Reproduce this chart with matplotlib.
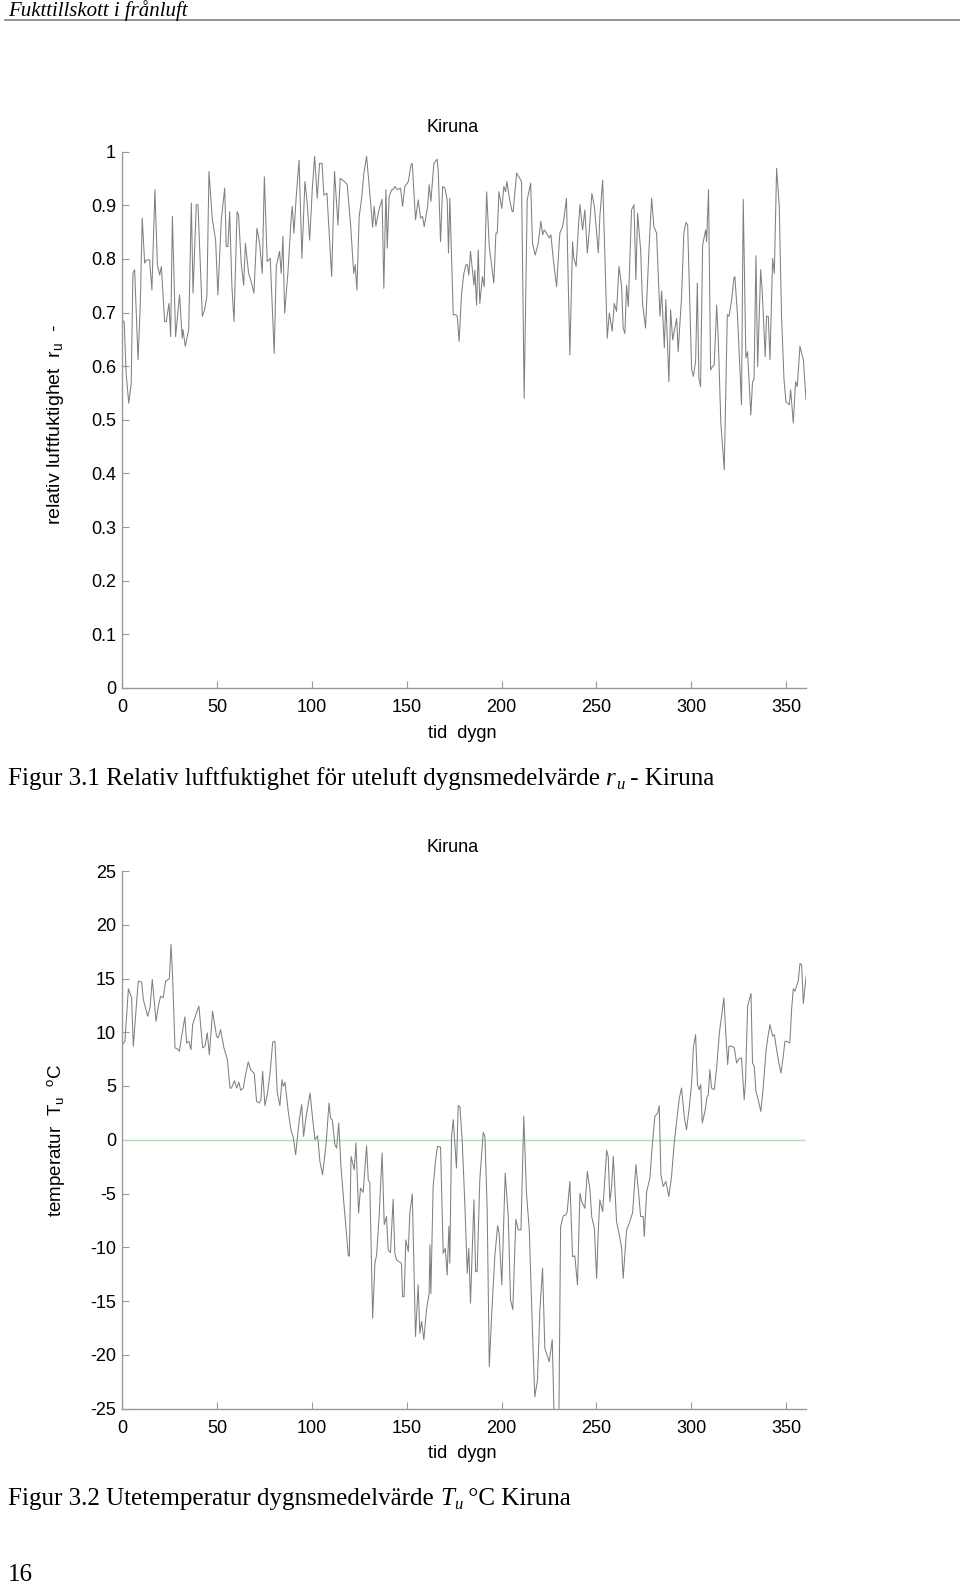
import matplotlib
matplotlib.use("Agg")
import matplotlib.pyplot as plt
from matplotlib.lines import Line2D

plt.rcParams['axes.unicode_minus'] = False
plt.rcParams['mathtext.fontset'] = 'custom'
plt.rcParams['mathtext.rm'] = 'Liberation Sans'
plt.rcParams['mathtext.it'] = 'Liberation Sans'

# relative humidity, Kiruna (day, value)
rh_day = [0, 1, 2, 3.4, 4.7, 5.6, 6.5, 8.3, 9.5, 10.5, 11.8, 12.7, 14.4, 15.6, 17.2, 18.5,
          19.7, 20.6, 22.3, 23.2, 24.6, 25.5, 26.4, 28.1, 30.2, 31.6, 32, 33.2, 35, 36.4,
          37.3, 39, 39.9, 42.2, 43.4, 44.6, 45.7, 47.4, 49.2, 50.4, 52.2, 54, 54.8, 55.7,
          56.6, 57.8, 58.9, 60.5, 61.3, 62.7, 64, 64.9, 66.6, 67.7, 69.4, 71, 72.4, 73.8,
          74.9, 76.4, 78, 80.1, 81.2, 82.9, 83.8, 84.7, 85.6, 87.3, 89.1, 89.6, 90.5, 91.7,
          93.2, 94.7, 96.3, 97.5, 98.8, 100.2, 101.4, 102.8, 104, 105.3, 106.3, 107.9,
          110.4, 111.9, 113.7, 114.9, 117.2, 118.6, 120.4, 122, 122.8, 123.7, 124.9,
          126.2, 127.4, 128.8, 130.2, 132, 132.8, 133.7, 135.5, 137, 137.9, 139, 139.7,
          140.7, 142, 142.8, 143.7, 145, 146.7, 147.8, 149, 150.8, 152.2, 152.9, 154.6,
          156, 157.3, 158.3, 159.2, 161, 161.8, 162.7, 164.3, 166, 166.6, 167.8, 168.9,
          170.1, 171.3, 172, 172.7, 174.5, 175.9, 176.6, 177.6, 178.9, 180.1, 181.2, 182,
          182.7, 183.6, 185.4, 185.9, 186.8, 187.7, 188.5, 189.9, 190.8, 192.1, 193.5,
          194.7, 195.9, 197, 197.7, 198.6, 200.1, 201.2, 202.1, 202.8, 204.4, 205.6, 206.1,
          207.9, 209.6, 210.5, 211.9, 213.5, 215.3, 216.3, 217.7, 219.3, 220.7, 221.6,
          222.5, 223.7, 225.1, 226, 227.2, 229, 230.7, 232.1, 232.8, 234.2, 235.1, 236,
          237.4, 238.1, 239.3, 240.4, 241.3, 242.7, 243.9, 245.2, 246.2, 247.6, 248.9,
          251, 251.8, 253.3, 255.7, 256.8, 258.3, 259.4, 260.6, 261.9, 263.3, 264.1, 265,
          265.9, 266.8, 268.5, 269.8, 270.8, 271.7, 273.3, 274.3, 275.9, 277.7, 279.1,
          280.3, 281.7, 283.5, 284.4, 285.8, 286.6, 288.2, 289.1, 290.2, 292.3, 293.1,
          294.9, 296.1, 297.2, 298.1, 300.2, 301.1, 302.3, 303.2, 304, 304.9, 306, 307.6,
          308.1, 309.1, 310.2, 311.1, 312.1, 313.4, 314.2, 315.6, 317.4, 319, 319.9, 321.3,
          322.5, 323, 324.4, 326.5, 327.4, 328.8, 329.7, 331.4, 332.3, 333.1, 334.1, 335,
          336.6, 337.4, 339, 339.7, 340.6, 341.5, 342.9, 343.8, 345, 346.4, 347.6, 348.9,
          349.9, 351.7, 352.4, 353.8, 355, 355.9, 357.3, 359.1, 360.5]
rh_val = [0.686, 0.683, 0.587, 0.531, 0.568, 0.773, 0.78, 0.612, 0.717, 0.876, 0.792, 0.798,
          0.798, 0.742, 0.929, 0.789, 0.77, 0.786, 0.683, 0.683, 0.717, 0.655, 0.879, 0.655,
          0.733, 0.652, 0.668, 0.637, 0.668, 0.904, 0.736, 0.901, 0.901, 0.693, 0.705, 0.73,
          0.963, 0.876, 0.835, 0.733, 0.873, 0.932, 0.823, 0.823, 0.888, 0.748, 0.683, 0.888,
          0.882, 0.792, 0.751, 0.829, 0.773, 0.761, 0.736, 0.857, 0.829, 0.773, 0.953, 0.795,
          0.801, 0.624, 0.786, 0.814, 0.773, 0.842, 0.699, 0.773, 0.879, 0.898, 0.848, 0.916,
          0.984, 0.801, 0.944, 0.904, 0.835, 0.932, 0.991, 0.913, 0.978, 0.978, 0.919, 0.922,
          0.767, 0.963, 0.863, 0.95, 0.944, 0.938, 0.863, 0.773, 0.789, 0.742, 0.879,
          0.913, 0.96, 0.991, 0.935, 0.859, 0.898, 0.861, 0.894, 0.911, 0.745, 0.929, 0.82,
          0.916, 0.929, 0.929, 0.935, 0.929, 0.932, 0.898, 0.935, 0.944, 0.975, 0.978, 0.873,
          0.91, 0.876, 0.879, 0.86, 0.898, 0.938, 0.907, 0.978, 0.986, 0.963, 0.832, 0.935,
          0.932, 0.91, 0.811, 0.913, 0.696, 0.696, 0.693, 0.646, 0.736, 0.773, 0.789, 0.789,
          0.77, 0.814, 0.751, 0.779, 0.714, 0.817, 0.717, 0.767, 0.748, 0.925, 0.823,
          0.789, 0.755, 0.848, 0.848, 0.925, 0.894, 0.935, 0.925, 0.944, 0.907, 0.888, 0.888,
          0.96, 0.95, 0.944, 0.54, 0.91, 0.941, 0.829, 0.807, 0.829, 0.87, 0.845,
          0.854, 0.848, 0.839, 0.845, 0.801, 0.748, 0.848, 0.86, 0.873, 0.913, 0.761, 0.621,
          0.832, 0.801, 0.786, 0.854, 0.901, 0.854, 0.891, 0.811, 0.851, 0.922, 0.898,
          0.811, 0.879, 0.947, 0.652, 0.699, 0.665, 0.717, 0.702, 0.786, 0.748, 0.671, 0.661,
          0.751, 0.711, 0.891, 0.901, 0.761, 0.885, 0.817, 0.717, 0.671, 0.817, 0.913,
          0.86, 0.848, 0.693, 0.74, 0.634, 0.724, 0.571, 0.705, 0.649, 0.689, 0.627,
          0.73, 0.848, 0.868, 0.863, 0.593, 0.581, 0.609, 0.755, 0.578, 0.562, 0.826, 0.854,
          0.832, 0.929, 0.593, 0.599, 0.602, 0.714, 0.655, 0.494, 0.407, 0.696, 0.693, 0.724,
          0.764, 0.767, 0.693, 0.528, 0.911, 0.615, 0.627, 0.509, 0.571, 0.575, 0.806, 0.599,
          0.78, 0.74, 0.618, 0.693, 0.693, 0.612, 0.801, 0.773, 0.969, 0.898, 0.693, 0.575,
          0.534, 0.528, 0.556, 0.494, 0.571, 0.562, 0.637, 0.612, 0.537]

# outdoor temperature, Kiruna (day, degC)
t_day = [0, 1.4, 3.2, 4.9, 5.8, 8.4, 10.2, 11.1, 13.4, 14.6, 15.8, 17.8, 19, 20.2, 21.6, 22.8,
         24.8, 25.7, 26.5, 27.8, 29, 30.1, 31.3, 33, 33.9, 35.1, 36.2, 37.1, 38.8, 40.4,
         42.4, 43.6, 44.8, 45.9, 47.6, 49.7, 50.6, 51.8, 53.6, 55.4, 56.8, 57.6, 59.1, 60.3,
         61.5, 62.4, 63.8, 65, 66.4, 67.7, 69.6, 70.8, 72.2, 73.1, 74, 75.2, 76.6, 77.9,
         79.3, 80.5, 81.7, 83.1, 84.2, 84.9, 85.8, 87.5, 88.9, 90.2, 91.4, 93.3, 94.6, 95.6,
         96.8, 99, 100.4, 101.6, 103, 104.2, 105.6, 107.4, 109, 109.8, 110.7, 112.1, 113,
         114.1, 115.3, 116.9, 119.2, 119.7, 120.6, 122.3, 123.2, 124.6,
         125.6, 127, 128.8, 129.7, 130.5, 132, 133.2, 134.1, 135.5, 137, 138.1, 139.3, 140.2,
         141.4, 142.8, 143.7, 144.6, 146.7, 147.2, 147.8, 148.6, 149.5, 150.8, 151.6, 152.9,
         154.6, 156, 156.9, 157.8, 159, 160.4, 161.8, 162.2, 162.7, 163.9, 165.2, 166.2,
         167.8, 169.2, 170.3, 171.3, 172.2, 172.7, 173.6, 174.5, 176.2, 177.1, 178, 179.2,
         180.6, 181.9, 182.7, 183.6, 185.4, 186.3, 187.1, 188.5, 190.3, 191.2, 192.4, 193.5,
         194.7, 196.4, 197.9, 198.7, 200.1, 201.9, 203.5, 204.7, 205.9, 207.5, 208.8, 210.2,
         211.7, 213.1, 214.6, 216.3, 217.5, 218.9, 220.2, 221.6, 222.8, 223.7, 225.1, 226.7,
         227.7, 230.2, 231.1, 232.5, 233.9, 234.6, 236, 237.4, 238.6, 240,
         241.3, 242.2, 243.9, 245.2, 246.6, 247.5, 248.9, 250.1, 251, 251.8, 253.3, 255.4,
         256.2, 257.1, 258, 258.9, 260.6, 262.4, 263.3, 264.1, 265.9, 267.3, 269.1, 270.8,
         272.1, 273.3, 274.7, 275.2, 276.5, 278.2, 279.4, 280.8, 282.3, 283.1, 284, 285.2,
         286.6, 288.2, 289.6, 291, 292.6, 293.7, 294.9, 296.3, 297.5, 299, 300.2, 301.1,
         302.3, 303.3, 304.2, 305, 305.8, 307.2, 308.4, 309, 309.8, 310.7, 312.1, 313.4,
         314.8, 316, 317.2, 318.1, 319.2, 319.9, 321.3, 322.7, 323.9, 325.1, 326.5, 327.9,
         328.6, 329.7, 331.5, 332.3, 333.2, 334.1, 335.3, 336.7, 338, 339.4, 340.2, 341.5,
         342.9, 343.8, 345, 346.2, 347.3, 348.5, 349.4, 350.3, 352, 352.9, 353.8, 354.7,
         355.5, 356.4, 357.3, 358.2, 359.1, 360.5]
t_val = [8.85, 9.16, 14.04, 13.2, 8.7, 14.75, 14.66, 13.04, 11.49, 12.27, 14.9, 11.02, 12.42,
         13.35, 13.2, 14.75, 14.97, 18.17, 15.22, 8.54, 8.45, 8.23, 9.63, 11.43, 9.0, 9.16,
         8.39, 10.71, 11.65, 12.42, 8.54, 8.7, 9.94, 7.92, 11.96, 9.63, 9.47, 10.25, 8.54,
         7.45, 4.81, 4.81, 5.5, 4.81, 5.34, 4.6, 4.81, 6.06, 7.24, 6.52, 6.15, 3.57, 3.42,
         3.73, 6.37, 3.17, 4.35, 6.21, 9.07, 9.16, 4.41, 3.17, 5.59, 4.97, 5.34, 2.64, 0.93,
         0.16, -1.4, 1.86, 3.26, 0.31, 2.02, 4.35, 1.86, 0.0, 0.37, -2.02, -3.26, -0.47,
         3.42, 2.02, 1.86, -0.47, -0.78, 1.55, -2.48, -6.06, -10.81, -10.81, -1.55, -2.8,
         -0.31, -6.83,
         -4.5, -4.9, -0.56, -3.73, -3.98, -16.6, -11.5, -10.7, -6.83, -1.24, -7.9, -7.14,
         -10.25, -10.5, -5.53, -10.56, -11.18, -11.43, -11.5, -14.6, -14.6, -9.32, -10.4,
         -6.83, -5.03, -18.3, -13.5, -18.0, -16.9, -18.6, -15.8, -14.3, -9.78, -14.3, -4.35,
         -1.86, -0.62, -0.68, -10.56, -10.1, -12.58, -8.07, -11.49, 0.31, 1.86, -2.64, 3.17,
         3.1, 0.0, -5.9, -12.42, -10.1, -15.2, -5.59, -12.27, -12.27, -3.73, 0.68, 0.31,
         -6.52, -21.1, -16.5, -10.87, -8.0, -8.7, -13.5, -3.1, -7.14, -14.9, -15.8, -7.4,
         -8.39, -8.39, 2.17, -4.97, -8.39, -18.0, -23.9, -22.4, -15.8, -11.96, -19.4, -19.9,
         -20.65, -18.6, -26.0, -26.0, -8.07, -7.08, -6.99, -6.68, -3.88, -10.87, -10.8,
         -13.5,
         -4.97, -5.75, -6.37, -2.95, -4.66, -7.14, -8.23, -12.9, -8.39, -5.59, -6.68, -0.99,
         -1.55, -5.75, -4.35, -1.55, -7.6, -9.16, -10.1, -12.9, -8.39, -7.76, -6.77, -2.33,
         -4.66, -7.14, -7.14, -9.0, -4.81, -3.57, -0.62, 2.17, 2.48, 3.17, -3.26, -4.35,
         -3.88, -5.28, -3.42, -0.31, 2.17, 3.88, 4.81, 2.17, 0.93, 3.1, 5.28, 8.54, 9.78,
         5.12, 4.66, 5.12, 1.55, 2.64, 4.04, 4.19, 6.52, 4.81, 4.66, 6.68, 9.94, 11.49, 13.2,
         10.25, 6.99, 8.7, 8.7, 8.54, 7.14, 7.52, 7.61, 3.73, 5.43, 12.42, 13.6, 7.14, 6.83,
         4.5, 3.73, 2.64, 4.97, 8.23, 9.32, 10.71, 9.63, 9.78, 8.39, 7.14, 6.21, 7.76, 9.16,
         9.16, 9.0, 12.11, 14.04, 13.82, 14.29, 14.75, 16.4, 16.3, 12.67, 15.16]

x_ticks = [0, 50, 100, 150, 200, 250, 300, 350]
rh_ticks = [0, 0.1, 0.2, 0.3, 0.4, 0.5, 0.6, 0.7, 0.8, 0.9, 1]
rh_ticklabels = ['0', '0.1', '0.2', '0.3', '0.4', '0.5', '0.6', '0.7', '0.8', '0.9', '1']
t_ticks = [-25, -20, -15, -10, -5, 0, 5, 10, 15, 20, 25]

W, H = 960, 1585
fig = plt.figure(figsize=(W / 100, H / 100), dpi=100)


def px(x, y):
    return x / W, 1 - y / H


sans = 'Liberation Sans'
serif = 'Liberation Serif'
axcol = '#9a9a9a'
linecol = '#808080'


def style_axes(ax):
    for s in ['top', 'right']:
        ax.spines[s].set_visible(False)
    for s in ['left', 'bottom']:
        ax.spines[s].set_color(axcol)
        ax.spines[s].set_linewidth(1.0)
    ax.tick_params(direction='in', length=5, width=0.8, color=axcol, labelsize=13)
    ax.tick_params(axis='y', pad=4.5)
    ax.tick_params(axis='x', pad=8)
    ax.set_xlim(0, 360.5)
    ax.set_xticks(x_ticks)
    ax.set_xticklabels([str(v) for v in x_ticks])
    for lab in ax.get_xticklabels() + ax.get_yticklabels():
        lab.set_fontfamily(sans)


def caption_line(y, pieces):
    # text pieces laid out one after another on a common baseline
    x = 8
    renderer = fig.canvas.get_renderer()
    for txt, size, dy, style in pieces:
        t = fig.text(*px(x, y + dy), txt, fontsize=size, family=serif, ha='left',
                     va='baseline', style=style)
        x += t.get_window_extent(renderer=renderer).width


# header
fig.text(*px(8, 11), 'Fukttillskott i frånluft', fontsize=15, family=serif,
         style='italic', va='center', ha='left')
fig.add_artist(Line2D([5 / W, 1.0], [1 - 19.5 / H, 1 - 19.5 / H], color='#808080',
                      linewidth=1.2, transform=fig.transFigure))

# Figure 3.1
l, r = 122.3, 806
ax1 = fig.add_axes([l / W, 1 - 688 / H, (r - l) / W, (688 - 151.6) / H])
ax1.plot(rh_day, rh_val, color=linecol, linewidth=0.75)
ax1.set_ylim(0, 1)
ax1.set_yticks(rh_ticks)
ax1.set_yticklabels(rh_ticklabels)
style_axes(ax1)
fig.text(*px(453, 128), 'Kiruna', fontsize=13, family=sans, ha='center', va='center')
fig.text(*px(462, 734), 'tid  dygn', fontsize=13, family=sans, ha='center', va='center')
fig.text(*px(56, 424), r'relativ luftfuktighet  $r_u$  -', fontsize=14, family=sans,
         ha='center', va='center', rotation=90)

# Figure 3.2
ax2 = fig.add_axes([l / W, 1 - 1408.5 / H, (r - l) / W, (1408.5 - 871) / H])
ax2.axhline(0, color='#b0e0b0', linewidth=1.0)
ax2.plot(t_day, t_val, color=linecol, linewidth=0.75)
ax2.set_ylim(-25, 25)
ax2.set_yticks(t_ticks)
ax2.set_yticklabels([str(v) for v in t_ticks])
style_axes(ax2)
fig.text(*px(453, 847), 'Kiruna', fontsize=13, family=sans, ha='center', va='center')
fig.text(*px(462, 1453), 'tid  dygn', fontsize=13, family=sans, ha='center', va='center')
fig.text(*px(56, 1140), r'temperatur  $T_u$  $^o$C', fontsize=13.5, family=sans,
         ha='center', va='center', rotation=90)

caption_line(785, [('Figur 3.1 Relativ luftfuktighet för uteluft dygnsmedelvärde ', 18, 0, 'normal'),
                   ('r', 18, 0, 'italic'), ('u', 12, 4, 'italic'),
                   (' - Kiruna', 18, 0, 'normal')])
caption_line(1505, [('Figur 3.2 Utetemperatur dygnsmedelvärde ', 18, 0, 'normal'),
                    ('T', 18, 0, 'italic'), ('u', 12, 4, 'italic'),
                    (' °C Kiruna', 18, 0, 'normal')])

fig.text(*px(8, 1575), '16', fontsize=18, family=serif, ha='left', va='center')

fig.savefig('out.png', dpi=100)
